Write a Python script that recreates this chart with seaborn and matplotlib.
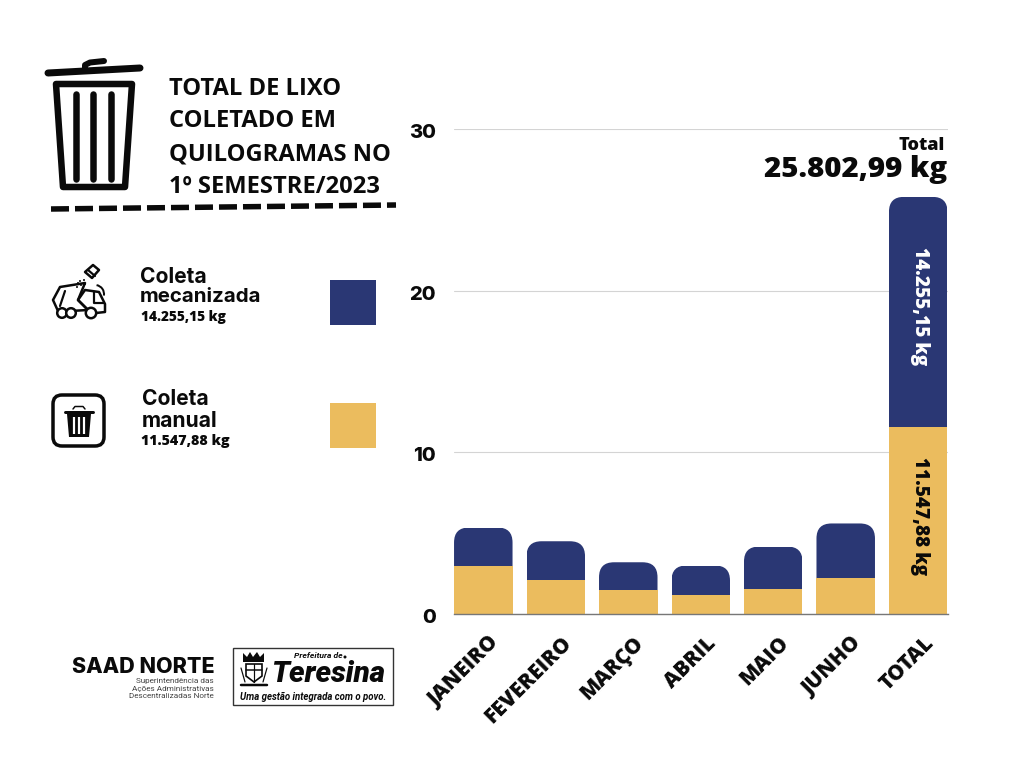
"""Total de lixo coletado por mes, 1o semestre/2023 (SAAD Norte)."""

import matplotlib
matplotlib.use("Agg")
import matplotlib.pyplot as plt
import seaborn as sns
from matplotlib.patches import Arc, FancyBboxPatch, PathPatch, Polygon, Rectangle, Circle
from matplotlib.path import Path
from matplotlib.transforms import ScaledTranslation

NAVY = "#2a3774"
GOLD = "#ebbc5e"
INK = "#0a0a0a"

# values in thousands of kg
months = ["JANEIRO", "FEVEREIRO", "MARÇO", "ABRIL", "MAIO", "JUNHO", "TOTAL"]
manual = [2.97, 2.10, 1.50, 1.20, 1.57, 2.20, 11.548]
mecanizada = [2.38, 2.40, 1.70, 1.80, 2.60, 3.40, 14.255]
y_ticks = [0, 10, 20, 30]

title_lines = ["TOTAL DE LIXO", "COLETADO EM", "QUILOGRAMAS NO", "1º SEMESTRE/2023"]

PX = 0.72  # font points per pixel at dpi=100

sns.set_theme(style="white")
plt.rcParams["font.family"] = ["Open Sans", "DejaVu Sans"]

fig = plt.figure(figsize=(10.24, 7.68), dpi=100, facecolor="white")


def _round_top(bar, ax, radius_px=15):
    """Clip a bar to a shape with rounded upper corners."""
    x0, y0 = bar.get_x(), bar.get_y()
    x1, y1 = x0 + bar.get_width(), y0 + bar.get_height()
    rx = radius_px / 72.5
    ry = radius_px / 16.17
    verts = [(x0, y0), (x0, y1 - ry), (x0, y1), (x0 + rx, y1), (x1 - rx, y1),
             (x1, y1), (x1, y1 - ry), (x1, y0), (x0, y0)]
    codes = [Path.MOVETO, Path.LINETO, Path.CURVE3, Path.CURVE3, Path.LINETO,
             Path.CURVE3, Path.CURVE3, Path.LINETO, Path.CLOSEPOLY]
    bar.set_clip_path(PathPatch(Path(verts, codes), transform=ax.transData))


# ---------------------------------------------------------------------------
# Bars
# ---------------------------------------------------------------------------
ax = fig.add_axes([454 / 1024, 1 - 614 / 768, 493.5 / 1024, 485 / 768])
totals = [m + k for m, k in zip(manual, mecanizada)]
sns.barplot(x=months, y=totals, color=NAVY, saturation=1, width=0.807, ax=ax, zorder=2,
            linewidth=0)
n_top = len(ax.patches)
sns.barplot(x=months, y=manual, color=GOLD, saturation=1, width=0.807, ax=ax, zorder=3,
            linewidth=0)
for bar in ax.patches[:n_top]:
    _round_top(bar, ax)

ax.set_xlim(-0.404, 6.404)
ax.set_ylim(0, 30)
ax.set_yticks(y_ticks)
ax.grid(axis="y", color="#d4d4d4", linewidth=0.8)
ax.set_axisbelow(True)
for name in ["top", "left", "right"]:
    ax.spines[name].set_visible(False)
ax.spines["bottom"].set_color("#777777")
ax.spines["bottom"].set_linewidth(1.0)
ax.spines["bottom"].set_zorder(5)
ax.tick_params(axis="both", length=0)
ax.tick_params(axis="y", pad=13)
y_shift = ScaledTranslation(0, -2 / 100, fig.dpi_scale_trans)
for lab in ax.get_yticklabels():
    lab.set_fontsize(20 * PX)
    lab.set_fontweight("heavy")
    lab.set_family("Inter")
    lab.set_color(INK)
    lab.set_transform(lab.get_transform() + y_shift)
ax.tick_params(axis="x", pad=17)
x_shift = ScaledTranslation(5 / 100, 5 / 100, fig.dpi_scale_trans)
for lab in ax.get_xticklabels():
    lab.set_fontsize(21 * PX)
    lab.set_fontweight("heavy")
    lab.set_color(INK)
    lab.set_rotation(45)
    lab.set_ha("right")
    lab.set_va("top")
    lab.set_rotation_mode("anchor")
    lab.set_transform(lab.get_transform() + x_shift)

ax.text(6.03, manual[6] + mecanizada[6] / 2 + 0.37, "14.255,15 kg", color="white", rotation=-90,
        ha="center", va="center", fontsize=19 * PX, fontweight="heavy", zorder=6)
ax.text(6.03, manual[6] / 2 + 0.3, "11.547,88 kg", color=INK, rotation=-90,
        ha="center", va="center", fontsize=19 * PX, fontweight="heavy", zorder=6)

# ---------------------------------------------------------------------------
# Overlay in pixel coordinates: title, legend, icons, footer
# ---------------------------------------------------------------------------
ov = fig.add_axes([0, 0, 1, 1], zorder=10)
ov.set_xlim(0, 1024)
ov.set_ylim(768, 0)
ov.axis("off")
ov.patch.set_alpha(0)


def px_line(xs, ys, lw, color=INK, **kw):
    kw.setdefault("solid_capstyle", "round")
    ov.plot(xs, ys, color=color, lw=lw * PX, **kw)


ov.text(945, 146, "Total", ha="right", va="center", fontsize=18 * PX, fontweight="heavy", color=INK)
ov.text(947, 170, "25.802,99 kg", ha="right", va="center", fontsize=29.4 * PX, fontweight="heavy", color=INK)

for text, y in zip(title_lines, [89, 121, 154, 187]):
    ov.text(169, y, text, ha="left", va="center", fontsize=23.7 * PX, fontweight="bold", color=INK)

# big bin
px_line([48, 140], [73, 68], 7)
px_line([85, 85, 90, 104], [71, 65, 62.5, 61], 6)
ov.add_patch(Polygon([(56, 84), (132, 84), (125, 187), (63, 187)], closed=True,
                     fill=False, ec=INK, lw=6.5 * PX, joinstyle="round"))
for x in [76, 93, 111]:
    px_line([x, x], [94, 179], 6.5)

px_line([51, 396], [209, 205], 5.5, linestyle=(0, (18 / 5.5, 6 / 5.5)),
        dash_capstyle="butt")

# legend
ov.add_patch(Rectangle((330, 280), 46, 45, fc=NAVY, ec="none"))
ov.add_patch(Rectangle((330, 403), 46, 45, fc=GOLD, ec="none"))
for x, y, text, size, weight, family in [
    (140, 277, "Coleta", 21, "bold", "Inter"),
    (140, 297, "mecanizada", 20.5, "bold", "Inter"),
    (141, 317, "14.255,15 kg", 13.6, "heavy", "Open Sans"),
    (142, 399, "Coleta", 21, "bold", "Inter"),
    (142, 421, "manual", 21, "bold", "Inter"),
    (141, 441, "11.547,88 kg", 14.2, "heavy", "Open Sans"),
]:
    ov.text(x, y, text, ha="left", va="center", fontsize=size * PX, fontweight=weight,
            family=family, color=INK)

# truck icon
truck = dict(fill=False, ec=INK, lw=2.5 * PX, joinstyle="round")
ov.add_patch(Polygon([(60, 287), (85, 283), (78, 300), (88, 310), (70, 311), (58, 311),
                      (53, 300)], closed=True, **truck))
ov.add_patch(Polygon([(85, 290), (99, 292), (105, 304), (105, 312), (96, 313), (88, 310),
                      (78, 300)], closed=True, **truck))
px_line([94, 94, 104], [292, 303, 303], 2.2)
px_line([65, 60], [291, 306], 2.2)
for cx, r in [(62, 4.8), (71, 4.8), (91, 5.2)]:
    ov.add_patch(Circle((cx, 313), r, fc="white", ec=INK, lw=2.5 * PX, zorder=4))
ov.add_patch(Polygon([(85, 272), (93, 265), (99, 270), (92, 278)], closed=True, **truck))
px_line([88, 95], [270, 276], 2.2)
for x, y in [(84, 280), (80, 281), (85, 284), (81, 285), (78, 283), (77, 287), (83, 288)]:
    ov.add_patch(Circle((x, y), 1.0, fc=INK, ec="none"))
ov.add_patch(Arc((95, 294), 18, 18, theta1=-80, theta2=10, ec=INK, lw=2 * PX))

# small bin icon
ov.add_patch(FancyBboxPatch((53, 395), 51, 51, boxstyle="round,pad=0,rounding_size=9",
                            fill=False, ec=INK, lw=3.5 * PX))
px_line([65, 93], [412, 412], 3)
px_line([73, 75, 83, 85], [409, 406.5, 406.5, 409], 1.5)
ov.add_patch(Polygon([(67, 414), (91, 414), (89, 437), (69, 437)], closed=True, fc=INK, ec="none"))
for x in [74, 79, 84]:
    px_line([x, x], [417, 434], 2.2, color="white", solid_capstyle="butt")

# footer
ov.text(215, 667, "SAAD NORTE", ha="right", va="center", fontsize=21.5 * PX, fontweight="heavy",
        family="Inter", color=INK)
for y, text in zip([681, 688.5, 696], ["Superintendência das", "Ações Administrativas",
                                       "Descentralizadas Norte"]):
    ov.text(214, y, text, ha="right", va="center", fontsize=8.2 * PX, color="#444444", family="Roboto")

ov.add_patch(Rectangle((233, 648), 160, 57, fc="white", ec="#333333", lw=1))
ov.text(318, 655.5, "Prefeitura de", ha="center", va="center", fontsize=8.5 * PX, fontweight="bold",
        style="italic", family="Roboto", color=INK)
ov.add_patch(Circle((345, 657), 1.5, fc=INK, ec="none"))
ov.text(328, 682, "Teresina", ha="center", va="baseline", fontsize=29.5 * PX, fontweight="heavy",
        style="italic", family="Roboto", color=INK)
ov.text(313, 697, "Uma gestão integrada com o povo.", ha="center", va="center", fontsize=9.6 * PX,
        fontweight="bold", style="italic", family="Roboto", color=INK)
# crest
ov.add_patch(Polygon([(243, 662), (243, 653), (247, 657), (250, 652), (253, 657), (257, 652),
                      (260, 657), (264, 653), (264, 662)], closed=True, fc=INK, ec="none"))
ov.add_patch(Polygon([(246, 664), (262, 664), (262, 676), (254, 682), (246, 676)], closed=True,
                     fill=False, ec=INK, lw=1.2))
px_line([246, 262], [670, 670], 1.5)
px_line([254, 254], [664, 682], 1.2)
px_line([241, 245], [668, 682], 1.2)
px_line([267, 263], [668, 682], 1.2)
px_line([241, 267], [685, 685], 2.5)

fig.savefig("out.png", dpi=100, facecolor="white")
